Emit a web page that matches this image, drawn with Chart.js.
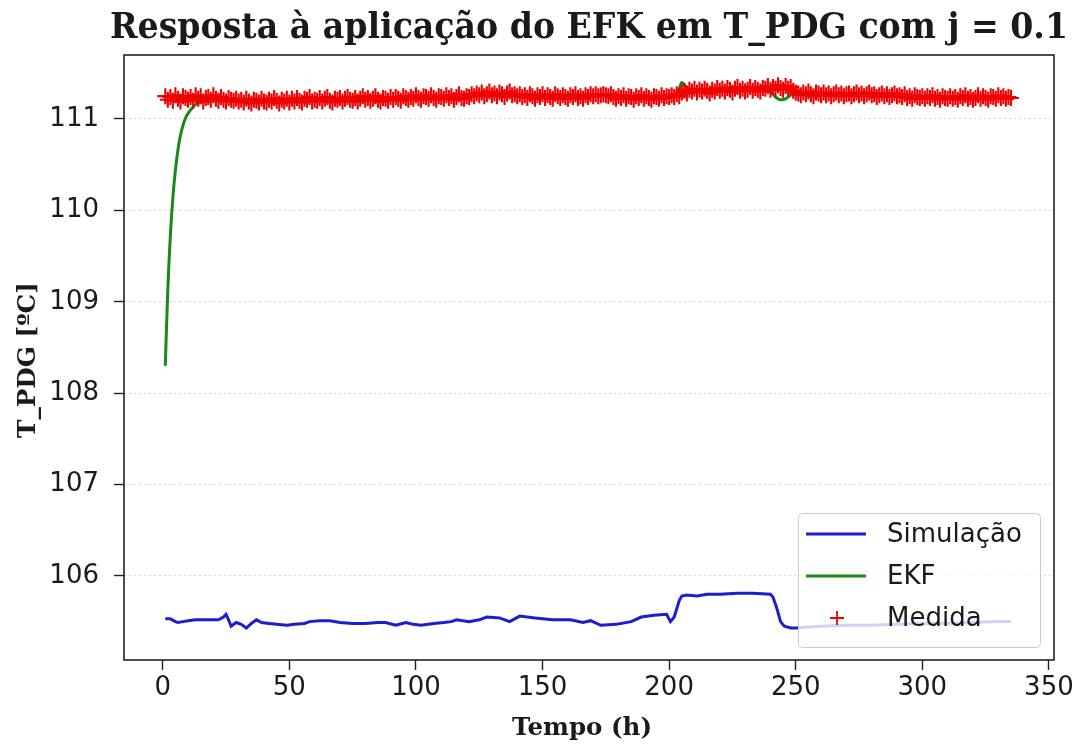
<!DOCTYPE html>
<html>
<head>
<meta charset="utf-8">
<script src="https://cdn.jsdelivr.net/npm/chart.js@4.4.1/dist/chart.umd.min.js"></script>
<style>
  html, body { margin: 0; padding: 0; background: #ffffff; }
  canvas { display: block; }
</style>
</head>
<body>
<canvas id="chart" width="1081" height="745"></canvas>
<script>
// Labels
const chartTitle = 'Resposta à aplicação do EFK em T_PDG com j = 0.1';
const xTitle = 'Tempo (h)';
const yTitle = 'T_PDG [ºC]';
const seriesNames = ['Simulação', 'EKF', 'Medida'];

// Tick values
const xTicks = [0, 50, 100, 150, 200, 250, 300, 350];
const yTicks = [106, 107, 108, 109, 110, 111];

// Simulated temperature (h, ºC)
const simTime = [1,3,5,6,8,10,13,17,22,24,25,26,27,29,31,33,35,37,39,42,45,49,52,56,58,62,66,70,75,80,85,88,92,96,99,102,107,111,114,116,121,125,128,133,137,141,147,154,161,166,169,173,179,185,189,194,199,200.5,202,204,205,207,211,215,220,227,233,240,241,242.5,244,245.5,248,250,255,260,270,280,290,300,310,320,330,335];
const simTemp = [105.53,105.53,105.50,105.49,105.50,105.51,105.52,105.52,105.52,105.55,105.58,105.52,105.45,105.49,105.47,105.43,105.48,105.52,105.49,105.48,105.47,105.46,105.47,105.48,105.50,105.51,105.51,105.49,105.48,105.48,105.49,105.49,105.46,105.49,105.47,105.46,105.48,105.49,105.50,105.52,105.50,105.52,105.55,105.54,105.50,105.56,105.54,105.52,105.52,105.49,105.51,105.46,105.47,105.50,105.55,105.57,105.58,105.50,105.55,105.73,105.78,105.79,105.78,105.80,105.80,105.81,105.81,105.80,105.77,105.65,105.50,105.45,105.43,105.43,105.44,105.45,105.46,105.46,105.47,105.48,105.48,105.49,105.50,105.50];

// Extended Kalman filter estimate (h, ºC)
const ekfTime = [1,2,3,4,5,6,7,8,9,10,11,12,13,14,16,18,20,25,30,35,40,50,60,70,80,90,100,110,120,125,130,140,150,160,170,175,180,190,200,203,204,205,206,208,210,220,230,238,240,242,244,246,248,250,260,270,280,290,300,310,320,335];
const ekfTemp = [108.30,109.13,109.72,110.14,110.44,110.66,110.82,110.93,111.01,111.06,111.10,111.13,111.16,111.17,111.20,111.21,111.22,111.22,111.21,111.20,111.20,111.20,111.21,111.21,111.22,111.22,111.23,111.24,111.24,111.26,111.27,111.27,111.25,111.25,111.25,111.26,111.25,111.24,111.24,111.25,111.33,111.40,111.37,111.32,111.30,111.31,111.32,111.33,111.30,111.24,111.21,111.22,111.26,111.28,111.27,111.27,111.26,111.25,111.24,111.23,111.23,111.23];

// Hourly measurements (ºC), first sample at hour 1
const medidaFirstHour = 1;
const medidaTemp = [
  111.25,111.21,111.24,111.20,111.26,111.22,111.19,111.25,111.23,111.21,
  111.24,111.20,111.26,111.22,111.25,111.19,111.23,111.24,111.21,111.26,
  111.22,111.20,111.24,111.21,111.19,111.23,111.21,111.20,111.22,111.19,
  111.21,111.18,111.22,111.19,111.17,111.21,111.20,111.18,111.22,111.19,
  111.18,111.21,111.19,111.23,111.20,111.17,111.21,111.19,111.22,111.18,
  111.22,111.19,111.23,111.20,111.18,111.22,111.21,111.24,111.19,111.21,
  111.20,111.23,111.19,111.22,111.24,111.20,111.18,111.22,111.21,111.23,
  111.19,111.22,111.24,111.21,111.20,111.23,111.19,111.22,111.25,111.21,
  111.23,111.20,111.22,111.25,111.21,111.19,111.23,111.22,111.20,111.24,
  111.21,111.24,111.22,111.20,111.25,111.23,111.21,111.24,111.22,111.26,
  111.23,111.21,111.25,111.24,111.22,111.26,111.23,111.21,111.25,111.24,
  111.22,111.26,111.23,111.25,111.21,111.24,111.27,111.23,111.22,111.25,
  111.24,111.27,111.25,111.28,111.26,111.29,111.25,111.27,111.30,111.26,
  111.28,111.25,111.29,111.27,111.24,111.28,111.30,111.26,111.27,111.25,
  111.27,111.24,111.26,111.23,111.27,111.25,111.22,111.26,111.24,111.27,
  111.23,111.26,111.24,111.22,111.27,111.25,111.23,111.26,111.24,111.22,
  111.26,111.24,111.27,111.23,111.25,111.22,111.26,111.24,111.27,111.25,
  111.27,111.25,111.26,111.27,111.26,111.25,111.27,111.24,111.22,111.25,
  111.23,111.26,111.22,111.25,111.24,111.21,111.25,111.23,111.26,111.22,
  111.25,111.23,111.21,111.25,111.24,111.22,111.26,111.23,111.25,111.24,
  111.26,111.24,111.27,111.25,111.29,111.31,111.28,111.32,111.30,111.33,
  111.29,111.32,111.30,111.33,111.31,111.28,111.32,111.30,111.34,111.31,
  111.33,111.30,111.34,111.32,111.29,111.33,111.35,111.31,111.33,111.30,
  111.32,111.35,111.31,111.34,111.32,111.30,111.34,111.33,111.36,111.32,
  111.35,111.33,111.37,111.34,111.32,111.36,111.33,111.35,111.31,111.29,
  111.28,111.26,111.29,111.27,111.30,111.27,111.25,111.29,111.28,111.26,
  111.29,111.26,111.28,111.25,111.27,111.29,111.26,111.28,111.25,111.27,
  111.28,111.25,111.27,111.29,111.26,111.28,111.25,111.27,111.29,111.26,
  111.27,111.24,111.26,111.28,111.25,111.27,111.24,111.26,111.28,111.25,
  111.26,111.24,111.27,111.23,111.25,111.22,111.26,111.24,111.23,111.25,
  111.22,111.25,111.23,111.26,111.22,111.24,111.21,111.25,111.23,111.22,
  111.25,111.22,111.24,111.21,111.25,111.23,111.26,111.22,111.24,111.21,
  111.23,111.26,111.22,111.25,111.23,111.21,111.25,111.24,111.22,111.26,
  111.23,111.25,111.22,111.24,111.23
];

const toPoints = (xs, ys) => xs.map((x, i) => ({ x: x, y: ys[i] }));
const medidaPoints = medidaTemp.map((y, i) => ({ x: medidaFirstHour + i, y: y }));

const TEXT_COLOR = '#1a1a1a';

// Draws a text horizontally squeezed/stretched to a given width
function drawFitted(ctx, text, font, x, y, width, vertical) {
  ctx.save();
  ctx.font = font;
  const w = ctx.measureText(text).width;
  ctx.translate(x, y);
  if (vertical) ctx.rotate(-Math.PI / 2);
  ctx.scale(width / w, 1);
  ctx.textAlign = 'center';
  ctx.textBaseline = 'alphabetic';
  ctx.fillStyle = TEXT_COLOR;
  ctx.fillText(text, 0, 0);
  ctx.restore();
}

const framePlugin = {
  id: 'frame',
  afterDatasetsDraw(chart) {
    const { ctx, chartArea: a } = chart;
    ctx.save();
    ctx.strokeStyle = '#222';
    ctx.lineWidth = 1.6;
    ctx.strokeRect(a.left, a.top, a.right - a.left, a.bottom - a.top);
    ctx.restore();
  },
  afterDraw(chart) {
    const ctx = chart.ctx;
    // Titles
    drawFitted(ctx, chartTitle, 'bold 35px "DejaVu Serif"', 589, 38, 958, false);
    drawFitted(ctx, xTitle, 'bold 24px "DejaVu Serif"', 582, 735, 140, false);
    drawFitted(ctx, yTitle, 'bold 24px "DejaVu Serif"', 35, 360, 156, true);

    // Legend box
    const bx = 798.5, by = 513.5, bw = 242, bh = 134;
    ctx.save();
    ctx.beginPath();
    ctx.roundRect(bx, by, bw, bh, 4);
    ctx.fillStyle = 'rgba(255,255,255,0.8)';
    ctx.fill();
    ctx.strokeStyle = '#cccccc';
    ctx.lineWidth = 1;
    ctx.stroke();

    const rows = [534, 576, 618];
    const ds = chart.data.datasets;
    ctx.font = '26px "DejaVu Sans"';
    ctx.textBaseline = 'middle';
    ctx.textAlign = 'left';
    seriesNames.forEach((name, i) => {
      const y = rows[i];
      const d = ds[i];
      if (d.showLine === false) {
        ctx.strokeStyle = d.pointBorderColor;
        ctx.lineWidth = 1.8;
        ctx.beginPath();
        ctx.moveTo(837 - 7, y); ctx.lineTo(837 + 7, y);
        ctx.moveTo(837, y - 7); ctx.lineTo(837, y + 7);
        ctx.stroke();
      } else {
        ctx.strokeStyle = d.borderColor;
        ctx.lineWidth = d.borderWidth;
        ctx.beginPath();
        ctx.moveTo(806, y); ctx.lineTo(866, y);
        ctx.stroke();
      }
      ctx.fillStyle = TEXT_COLOR;
      ctx.fillText(name, 887, y + 1);
    });
    ctx.restore();
  }
};

const tickFont = { family: 'DejaVu Sans', size: 26 };

new Chart(document.getElementById('chart'), {
  type: 'scatter',
  data: {
    datasets: [
      {
        label: seriesNames[0],
        data: toPoints(simTime, simTemp),
        showLine: true,
        borderColor: '#1c1cd2',
        borderWidth: 3,
        pointRadius: 0,
        tension: 0,
        order: 3
      },
      {
        label: seriesNames[1],
        data: toPoints(ekfTime, ekfTemp),
        showLine: true,
        borderColor: '#1a881a',
        borderWidth: 3,
        pointRadius: 0,
        cubicInterpolationMode: 'monotone',
        order: 2
      },
      {
        label: seriesNames[2],
        data: medidaPoints,
        showLine: false,
        pointStyle: 'cross',
        pointRadius: 8,
        pointBorderColor: '#f00000',
        pointBackgroundColor: '#f00000',
        pointBorderWidth: 2.1,
        order: 1
      }
    ]
  },
  options: {
    responsive: false,
    animation: false,
    devicePixelRatio: 1,
    layout: { padding: { top: 55, right: 27, left: 0, bottom: 0 } },
    plugins: {
      legend: { display: false },
      title: { display: false },
      tooltip: { enabled: false }
    },
    scales: {
      x: {
        type: 'linear',
        min: -15.3,
        max: 352,
        afterBuildTicks: s => { s.ticks = xTicks.map(v => ({ value: v })); },
        afterFit: s => { s.height = 85; },
        border: { display: false },
        grid: { drawOnChartArea: false, drawTicks: true, tickLength: 10, tickColor: '#222', tickWidth: 1.4 },
        ticks: { font: tickFont, color: TEXT_COLOR, padding: 3, maxRotation: 0, autoSkip: false }
      },
      y: {
        type: 'linear',
        min: 105.08,
        max: 111.70,
        afterBuildTicks: s => { s.ticks = yTicks.map(v => ({ value: v })); },
        afterFit: s => { s.width = 124; },
        border: { display: false, dash: [2, 3] },
        grid: { color: 'rgba(0,0,0,0.16)', lineWidth: 1, drawTicks: true, tickLength: 10, tickColor: '#222', tickWidth: 1.4 },
        ticks: { font: tickFont, color: TEXT_COLOR, padding: 15, autoSkip: false }
      }
    }
  },
  plugins: [framePlugin]
});
</script>
</body>
</html>
